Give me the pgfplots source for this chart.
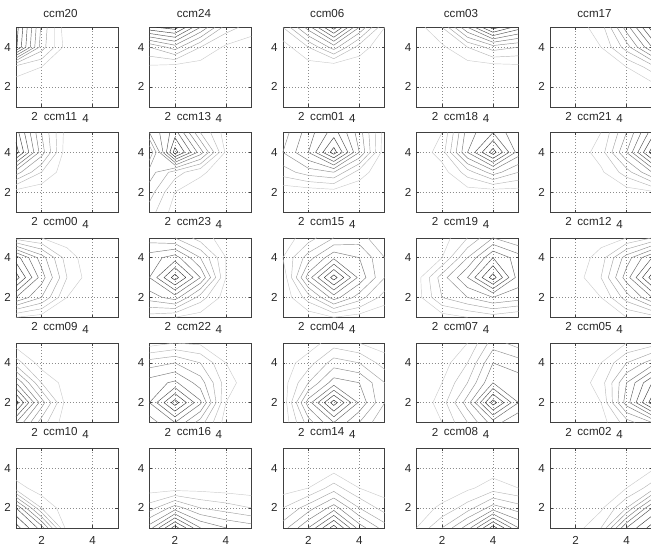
\documentclass[border=0pt]{standalone}
\usepackage{pgfplots}
\pgfplotsset{compat=1.18}
\usepackage{fontspec}
\setmainfont{Liberation Sans}

\newcount\npts
\makeatletter
% grid storage: Z:x:y
\def\gsetrow#1#2,#3,#4,#5,#6\relax{%
  \expandafter\def\csname Z:1:#1\endcsname{#2}%
  \expandafter\def\csname Z:2:#1\endcsname{#3}%
  \expandafter\def\csname Z:3:#1\endcsname{#4}%
  \expandafter\def\csname Z:4:#1\endcsname{#5}%
  \expandafter\def\csname Z:5:#1\endcsname{#6}}
% rows given from y=5 (top) to y=1 (bottom), each x=1..5
\newcommand\setgrid[5]{\gsetrow5#1\relax\gsetrow4#2\relax\gsetrow3#3\relax\gsetrow2#4\relax\gsetrow1#5\relax}
% crossing of level \clev on an edge from (#3,#4) value #1 to (#5,#6) value #2
\def\edgecross#1#2#3#4#5#6{%
  \ifdim#1pt>\clev pt\def\cn@sa{1}\else\def\cn@sa{0}\fi
  \ifdim#2pt>\clev pt\def\cn@sb{1}\else\def\cn@sb{0}\fi
  \ifx\cn@sa\cn@sb\else
    \pgfmathsetmacro\cn@t{(\clev-#1)/(#2-#1)}%
    \pgfmathsetmacro\cn@x{#3+\cn@t*(#5-#3)}%
    \pgfmathsetmacro\cn@y{#4+\cn@t*(#6-#4)}%
    \advance\npts by 1
    \expandafter\xdef\csname cnpt\the\npts\endcsname{(\cn@x,\cn@y)}%
  \fi}
\def\cellcontour{%
  \edef\cip{\the\numexpr\ci+1\relax}%
  \edef\cjp{\the\numexpr\cj+1\relax}%
  \edef\za{\csname Z:\ci:\cj\endcsname}%
  \edef\zb{\csname Z:\cip:\cj\endcsname}%
  \edef\zc{\csname Z:\cip:\cjp\endcsname}%
  \edef\zd{\csname Z:\ci:\cjp\endcsname}%
  \npts=0
  \edgecross{\za}{\zb}{\ci}{\cj}{\cip}{\cj}%
  \edgecross{\zb}{\zc}{\cip}{\cj}{\cip}{\cjp}%
  \edgecross{\zd}{\zc}{\ci}{\cjp}{\cip}{\cjp}%
  \edgecross{\za}{\zd}{\ci}{\cj}{\ci}{\cjp}%
  \ifnum\npts=2
    \xdef\segs{\segs\csname cnpt1\endcsname\csname cnpt2\endcsname(nan,nan)}%
  \fi
  \ifnum\npts=4
    \pgfmathsetmacro\cn@c{(\za+\zb+\zc+\zd)/4}%
    \ifdim\za pt>\clev pt\def\cn@sa{1}\else\def\cn@sa{0}\fi
    \ifdim\cn@c pt>\clev pt\def\cn@sb{1}\else\def\cn@sb{0}\fi
    \ifx\cn@sa\cn@sb
      \xdef\segs{\segs\csname cnpt1\endcsname\csname cnpt2\endcsname(nan,nan)\csname cnpt3\endcsname\csname cnpt4\endcsname(nan,nan)}%
    \else
      \xdef\segs{\segs\csname cnpt4\endcsname\csname cnpt1\endcsname(nan,nan)\csname cnpt2\endcsname\csname cnpt3\endcsname(nan,nan)}%
    \fi
  \fi}
\def\drawcontours{%
  \foreach \lv in {1,...,9}{%
    \edef\clev{0.\lv}%
    \gdef\segs{}%
    \foreach \ci in {1,...,4}{\foreach \cj in {1,...,4}{\cellcontour}}%
    \ifx\segs\empty\else
      \pgfmathtruncatemacro\pc{12+\lv*8}%
      \edef\doplot{\noexpand\addplot[draw=black!\pc,line width=0.45pt,unbounded coords=jump,forget plot] coordinates {\segs};}%
      \doplot
    \fi}}
\makeatother

\pgfplotsset{
  panel/.style={
    anchor=north west, scale only axis, width=102pt, height=79.5pt,
    xmin=1, xmax=5, ymin=1, ymax=5,
    xtick={2,4}, ytick={2,4}, yticklabels={2,4},
    grid=major,
    major grid style={black!45, line width=0.5pt, dash pattern=on 0.8pt off 2.2pt},
    axis line style={black!75, line width=0.6pt},
    tick style={black!75, line width=0.5pt},
    major tick length=2.5pt,
    tick align=inside,
    tick label style={font=\fontsize{11.6}{13}\selectfont, text=black!85},
    yticklabel style={anchor=east, inner sep=0pt, xshift=-5pt},
    title style={font=\fontsize{11.6}{13}\selectfont, text=black!85, at={(0.5,1)}, anchor=base, inner sep=0pt, xshift=-6.5pt},
  },
  upper/.style={xticklabels={2,\raisebox{-2.5pt}{4}}, xticklabel style={anchor=base, inner sep=0pt, xshift=-7pt, yshift=-13.5pt}},
  lower/.style={xticklabels={2,4}, xticklabel style={anchor=base, inner sep=0pt, yshift=-16.5pt}},
  ta/.style={title style={yshift=4pt}},
  tb/.style={title style={yshift=6.5pt}},
}

\newcommand\panel[5]{%
  \setgrid#5%
  \begin{axis}[panel, at={(#1pt,-#2pt)}, title={#3}, #4]
  \drawcontours
  \end{axis}}

\begin{document}
\begin{tikzpicture}
\useasboundingbox (0,0) rectangle (651pt,-550pt);
% ---------------- row 1
\panel{16}{27.3}{ccm20}{upper,ta}{%
 {0.95,0.38,0.02,0.01,0.01}{0.92,0.35,0.05,0.02,0.01}{0.15,0.10,0.04,0.02,0.01}{0.05,0.04,0.02,0.01,0.00}{0.03,0.02,0.01,0.00,0.00}}
\panel{149.4}{27.3}{ccm24}{upper,ta}{%
 {0.88,0.95,0.60,0.25,0.15}{0.30,0.45,0.20,0.08,0.04}{0.08,0.05,0.05,0.03,0.02}{0.03,0.02,0.02,0.01,0.01}{0.01,0.01,0.01,0.00,0.00}}
\panel{282.8}{27.3}{ccm06}{upper,ta}{%
 {0.20,0.55,0.95,0.50,0.10}{0.05,0.20,0.45,0.15,0.03}{0.02,0.05,0.02,0.04,0.02}{0.01,0.01,0.01,0.01,0.01}{0.00,0.00,0.00,0.00,0.00}}
\panel{416.5}{27.3}{ccm03}{upper,ta}{%
 {0.05,0.20,0.60,0.95,0.75}{0.02,0.08,0.20,0.35,0.30}{0.01,0.03,0.05,0.05,0.07}{0.00,0.01,0.02,0.02,0.02}{0.00,0.00,0.00,0.00,0.00}}
\panel{550}{27.3}{ccm17}{upper,ta}{%
 {0.02,0.05,0.15,0.55,0.95}{0.01,0.03,0.10,0.35,0.70}{0.01,0.02,0.05,0.10,0.25}{0.00,0.01,0.02,0.03,0.05}{0.00,0.00,0.01,0.01,0.02}}
% ---------------- row 2
\panel{16}{132.5}{ccm11}{upper,tb}{%
 {0.85,0.40,0.05,0.02,0.01}{0.95,0.45,0.03,0.01,0.00}{0.45,0.20,0.03,0.01,0.00}{0.05,0.03,0.01,0.00,0.00}{0.02,0.01,0.00,0.00,0.00}}
\panel{149.4}{132.5}{ccm13}{upper,tb}{%
 {0.50,0.75,0.30,0.05,0.02}{0.20,0.95,0.55,0.08,0.02}{0.45,0.25,0.12,0.04,0.01}{0.35,0.10,0.04,0.02,0.01}{0.25,0.05,0.02,0.01,0.00}}
\panel{282.8}{132.5}{ccm01}{upper,tb}{%
 {0.35,0.55,0.75,0.45,0.05}{0.40,0.60,0.95,0.50,0.03}{0.25,0.35,0.40,0.15,0.02}{0.02,0.03,0.05,0.03,0.01}{0.01,0.01,0.01,0.00,0.00}}
\panel{416.5}{132.5}{ccm18}{upper,tb}{%
 {0.02,0.10,0.55,0.70,0.50}{0.02,0.15,0.60,0.95,0.55}{0.01,0.05,0.25,0.45,0.30}{0.00,0.02,0.05,0.04,0.05}{0.00,0.00,0.01,0.02,0.01}}
\panel{550}{132.5}{ccm21}{upper,tb}{%
 {0.01,0.02,0.10,0.40,0.75}{0.01,0.03,0.15,0.50,0.95}{0.01,0.02,0.08,0.25,0.50}{0.00,0.01,0.02,0.05,0.08}{0.00,0.00,0.00,0.01,0.01}}
% ---------------- row 3
\panel{16}{237.8}{ccm00}{upper,tb}{%
 {0.15,0.10,0.05,0.02,0.01}{0.75,0.45,0.15,0.03,0.01}{0.95,0.55,0.20,0.03,0.01}{0.60,0.40,0.10,0.02,0.01}{0.10,0.05,0.02,0.01,0.00}}
\panel{149.4}{237.8}{ccm23}{upper,tb}{%
 {0.35,0.30,0.15,0.05,0.01}{0.55,0.65,0.40,0.10,0.02}{0.60,0.95,0.60,0.10,0.02}{0.45,0.55,0.25,0.05,0.01}{0.15,0.10,0.05,0.02,0.00}}
\panel{282.8}{237.8}{ccm15}{upper,tb}{%
 {0.05,0.15,0.30,0.35,0.20}{0.10,0.35,0.58,0.50,0.30}{0.02,0.55,0.95,0.57,0.30}{0.02,0.25,0.55,0.35,0.15}{0.01,0.03,0.10,0.05,0.02}}
\panel{416.5}{237.8}{ccm19}{upper,tb}{%
 {0.02,0.05,0.20,0.40,0.30}{0.02,0.10,0.40,0.70,0.55}{0.05,0.35,0.60,0.95,0.55}{0.05,0.30,0.40,0.50,0.45}{0.02,0.05,0.10,0.15,0.10}}
\panel{550}{237.8}{ccm12}{upper,tb}{%
 {0.01,0.02,0.05,0.10,0.20}{0.01,0.03,0.15,0.45,0.70}{0.01,0.05,0.20,0.55,0.95}{0.01,0.03,0.10,0.35,0.60}{0.00,0.01,0.03,0.10,0.15}}
% ---------------- row 4
\panel{16}{343}{ccm09}{upper,tb}{%
 {0.05,0.02,0.01,0.01,0.00}{0.25,0.05,0.02,0.01,0.00}{0.60,0.20,0.05,0.02,0.01}{0.95,0.45,0.05,0.02,0.01}{0.60,0.25,0.03,0.01,0.00}}
\panel{149.4}{343}{ccm22}{upper,tb}{%
 {0.05,0.10,0.08,0.03,0.01}{0.35,0.40,0.30,0.10,0.02}{0.55,0.62,0.45,0.15,0.03}{0.60,0.95,0.62,0.10,0.02}{0.45,0.60,0.35,0.05,0.01}}
\panel{282.8}{343}{ccm04}{upper,tb}{%
 {0.02,0.05,0.15,0.10,0.05}{0.05,0.15,0.35,0.30,0.15}{0.05,0.30,0.55,0.50,0.30}{0.02,0.55,0.95,0.58,0.30}{0.02,0.35,0.60,0.40,0.20}}
\panel{416.5}{343}{ccm07}{upper,tb}{%
 {0.01,0.02,0.10,0.35,0.25}{0.01,0.05,0.20,0.50,0.45}{0.01,0.10,0.30,0.60,0.55}{0.01,0.15,0.45,0.95,0.60}{0.01,0.10,0.30,0.55,0.40}}
\panel{550}{343}{ccm05}{upper,tb}{%
 {0.01,0.02,0.05,0.10,0.15}{0.01,0.03,0.10,0.30,0.45}{0.01,0.03,0.15,0.50,0.80}{0.01,0.02,0.10,0.55,0.95}{0.00,0.01,0.05,0.25,0.40}}
% ---------------- row 5
\panel{16}{448.3}{ccm10}{lower,tb}{%
 {0.01,0.01,0.00,0.00,0.00}{0.02,0.01,0.01,0.00,0.00}{0.15,0.04,0.01,0.00,0.00}{0.70,0.20,0.03,0.01,0.00}{0.95,0.65,0.05,0.02,0.01}}
\panel{149.4}{448.3}{ccm16}{lower,tb}{%
 {0.01,0.01,0.01,0.01,0.00}{0.02,0.03,0.02,0.02,0.01}{0.05,0.05,0.06,0.05,0.04}{0.25,0.45,0.30,0.25,0.20}{0.55,0.95,0.60,0.50,0.45}}
\panel{282.8}{448.3}{ccm14}{lower,tb}{%
 {0.01,0.01,0.01,0.01,0.01}{0.02,0.03,0.05,0.03,0.02}{0.05,0.10,0.25,0.10,0.05}{0.20,0.35,0.55,0.30,0.15}{0.35,0.60,0.95,0.55,0.35}}
\panel{416.5}{448.3}{ccm08}{lower,tb}{%
 {0.00,0.00,0.01,0.01,0.01}{0.01,0.02,0.03,0.05,0.04}{0.02,0.04,0.08,0.15,0.10}{0.05,0.12,0.25,0.45,0.35}{0.10,0.30,0.55,0.95,0.60}}
\panel{550}{448.3}{ccm02}{lower,tb}{%
 {0.00,0.00,0.01,0.01,0.02}{0.00,0.01,0.02,0.04,0.08}{0.00,0.02,0.04,0.10,0.25}{0.00,0.03,0.08,0.30,0.70}{0.00,0.05,0.20,0.70,0.95}}
\end{tikzpicture}
\end{document}
